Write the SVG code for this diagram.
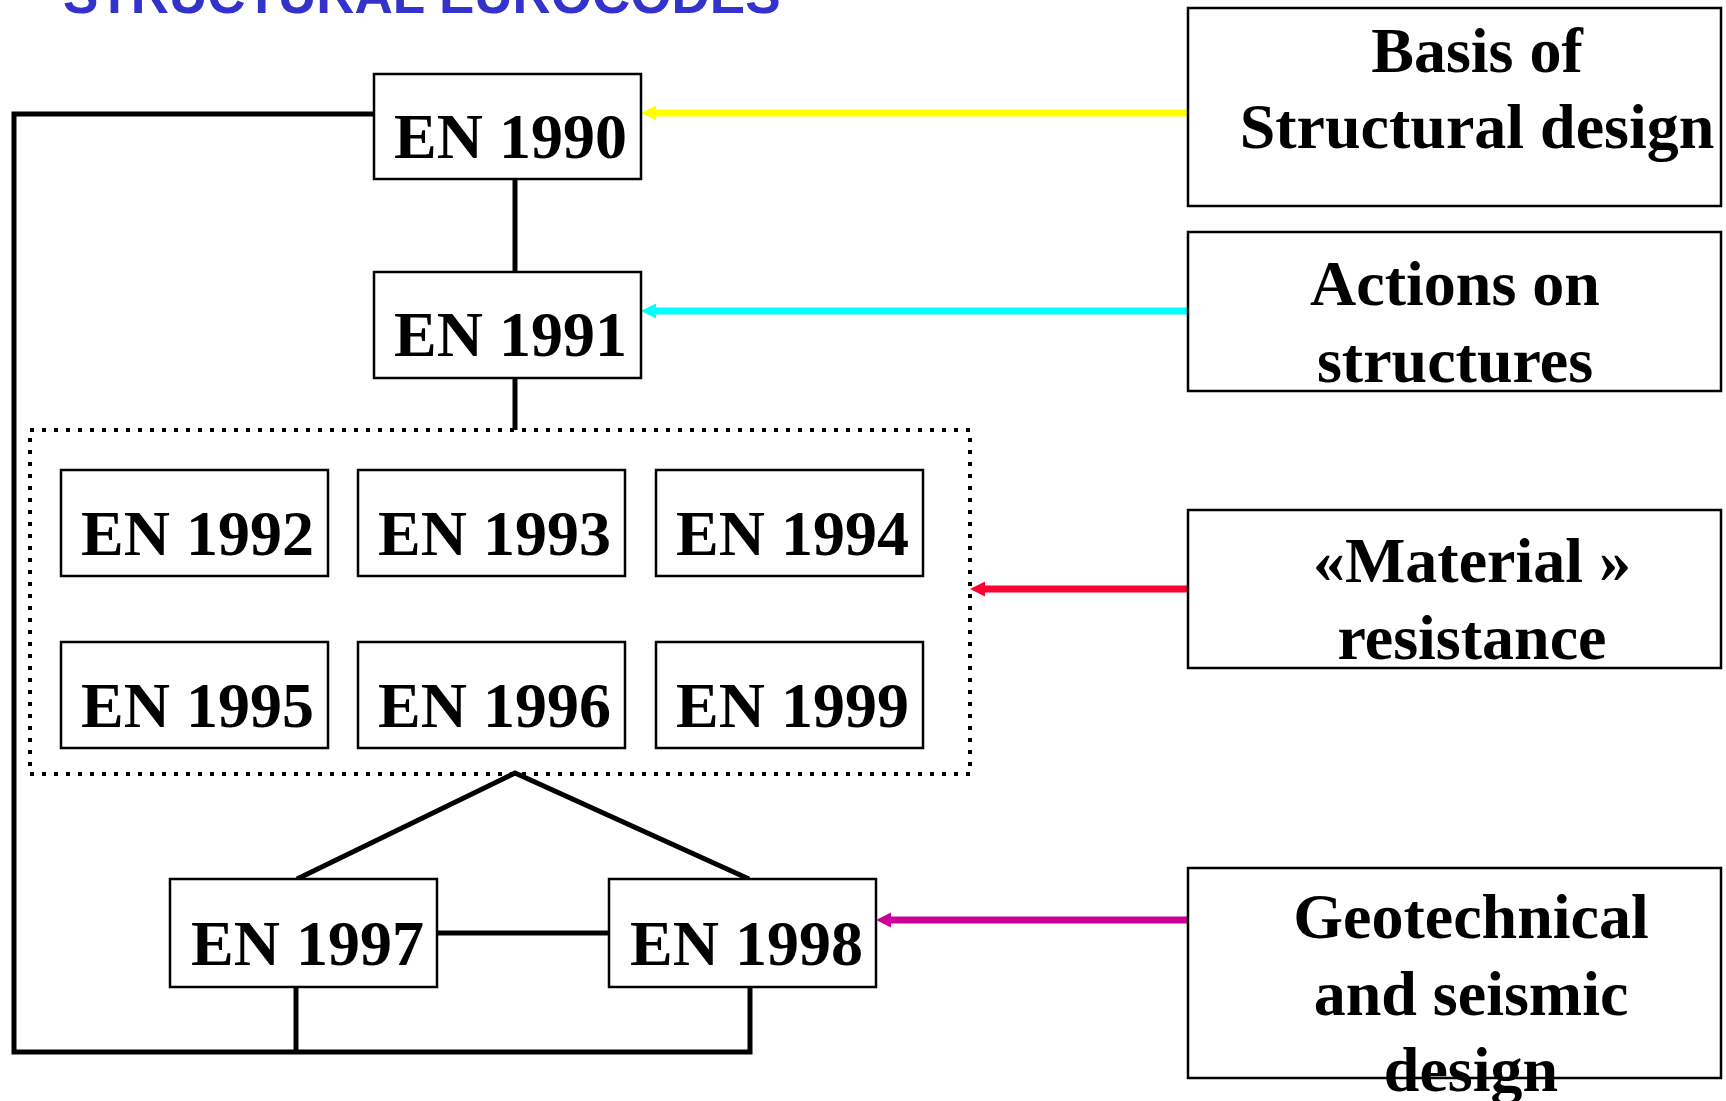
<svg xmlns="http://www.w3.org/2000/svg" width="1726" height="1101" viewBox="0 0 1726 1101">
<style>
.box{fill:#fff;stroke:#000;stroke-width:2.5}
.en{font-family:"Liberation Serif","Times New Roman",serif;font-weight:bold;font-size:64px;fill:#000}
.lbl{font-family:"Liberation Serif","Times New Roman",serif;font-weight:bold;font-size:64px;fill:#000;text-anchor:middle}
.ln{fill:none;stroke:#000;stroke-width:5}
.arr{fill:none;stroke-width:7}
.title{font-family:"Liberation Sans",Arial,sans-serif;font-weight:bold;font-size:53px;fill:#3333CC}
</style>
<defs>
<marker id="mY" markerUnits="userSpaceOnUse" markerWidth="16" markerHeight="16" viewBox="0 0 16 16" refX="3" refY="8" orient="auto"><path d="M0,0.5 L15,8 L0,15.5 z" fill="#FFFF00"/></marker>
<marker id="mC" markerUnits="userSpaceOnUse" markerWidth="16" markerHeight="16" viewBox="0 0 16 16" refX="3" refY="8" orient="auto"><path d="M0,0.5 L15,8 L0,15.5 z" fill="#00FFFF"/></marker>
<marker id="mR" markerUnits="userSpaceOnUse" markerWidth="16" markerHeight="16" viewBox="0 0 16 16" refX="3" refY="8" orient="auto"><path d="M0,0.5 L15,8 L0,15.5 z" fill="#FF0033"/></marker>
<marker id="mM" markerUnits="userSpaceOnUse" markerWidth="16" markerHeight="16" viewBox="0 0 16 16" refX="3" refY="8" orient="auto"><path d="M0,0.5 L15,8 L0,15.5 z" fill="#CC0099"/></marker>
</defs>
<rect width="1726" height="1101" fill="#fff"/>
<text class="title" x="63" y="13">STRUCTURAL EUROCODES</text>

<g id="connectors">
<polyline class="ln" points="374,114 14,114 14,1052 750,1052 750,987"/>
<line class="ln" x1="296" y1="987" x2="296" y2="1052"/>
<line class="ln" x1="515" y1="179" x2="515" y2="272"/>
<line class="ln" x1="515" y1="378" x2="515" y2="430"/>
<polyline class="ln" points="297,879 515,773 749,879"/>
<line class="ln" x1="437" y1="933" x2="609" y2="933"/>
<line class="arr" stroke="#FFFF00" x1="1188" y1="113" x2="653" y2="113" marker-end="url(#mY)"/>
<line class="arr" stroke="#00FFFF" x1="1188" y1="311" x2="653" y2="311" marker-end="url(#mC)"/>
<line class="arr" stroke="#FF0033" x1="1188" y1="589" x2="982" y2="589" marker-end="url(#mR)"/>
<line class="arr" stroke="#CC0099" x1="1188" y1="920" x2="888" y2="920" marker-end="url(#mM)"/>
</g>

<g id="group-material">
<rect x="30" y="430" width="940" height="344" fill="none" stroke="#000" stroke-width="4" stroke-dasharray="4 8"/>
</g>

<g id="en1990"><rect class="box" x="374" y="74" width="267" height="105"/><text class="en" x="394" y="158">EN 1990</text></g>
<g id="en1991"><rect class="box" x="374" y="272" width="267" height="106"/><text class="en" x="394" y="356">EN 1991</text></g>
<g id="en1992"><rect class="box" x="61" y="470" width="267" height="106"/><text class="en" x="81" y="555">EN 1992</text></g>
<g id="en1993"><rect class="box" x="358" y="470" width="267" height="106"/><text class="en" x="378" y="555">EN 1993</text></g>
<g id="en1994"><rect class="box" x="656" y="470" width="267" height="106"/><text class="en" x="676" y="555">EN 1994</text></g>
<g id="en1995"><rect class="box" x="61" y="642" width="267" height="106"/><text class="en" x="81" y="727">EN 1995</text></g>
<g id="en1996"><rect class="box" x="358" y="642" width="267" height="106"/><text class="en" x="378" y="727">EN 1996</text></g>
<g id="en1999"><rect class="box" x="656" y="642" width="267" height="106"/><text class="en" x="676" y="727">EN 1999</text></g>
<g id="en1997"><rect class="box" x="170" y="879" width="267" height="108"/><text class="en" x="191" y="965">EN 1997</text></g>
<g id="en1998"><rect class="box" x="609" y="879" width="267" height="108"/><text class="en" x="630" y="965">EN 1998</text></g>

<g id="basis"><rect class="box" x="1188" y="8" width="533" height="198"/><text class="lbl" x="1477" y="72">Basis of</text><text class="lbl" x="1477" y="148">Structural design</text></g>
<g id="actions"><rect class="box" x="1188" y="232" width="533" height="159"/><text class="lbl" x="1455" y="305">Actions on</text><text class="lbl" x="1455" y="382">structures</text></g>
<g id="material"><rect class="box" x="1188" y="510" width="533" height="158"/><text class="lbl" x="1472" y="582">«Material »</text><text class="lbl" x="1472" y="659">resistance</text></g>
<g id="geotechnical"><rect class="box" x="1188" y="868" width="533" height="210"/><text class="lbl" x="1471" y="938">Geotechnical</text><text class="lbl" x="1471" y="1015">and seismic</text><text class="lbl" x="1471" y="1091">design</text></g>
</svg>
